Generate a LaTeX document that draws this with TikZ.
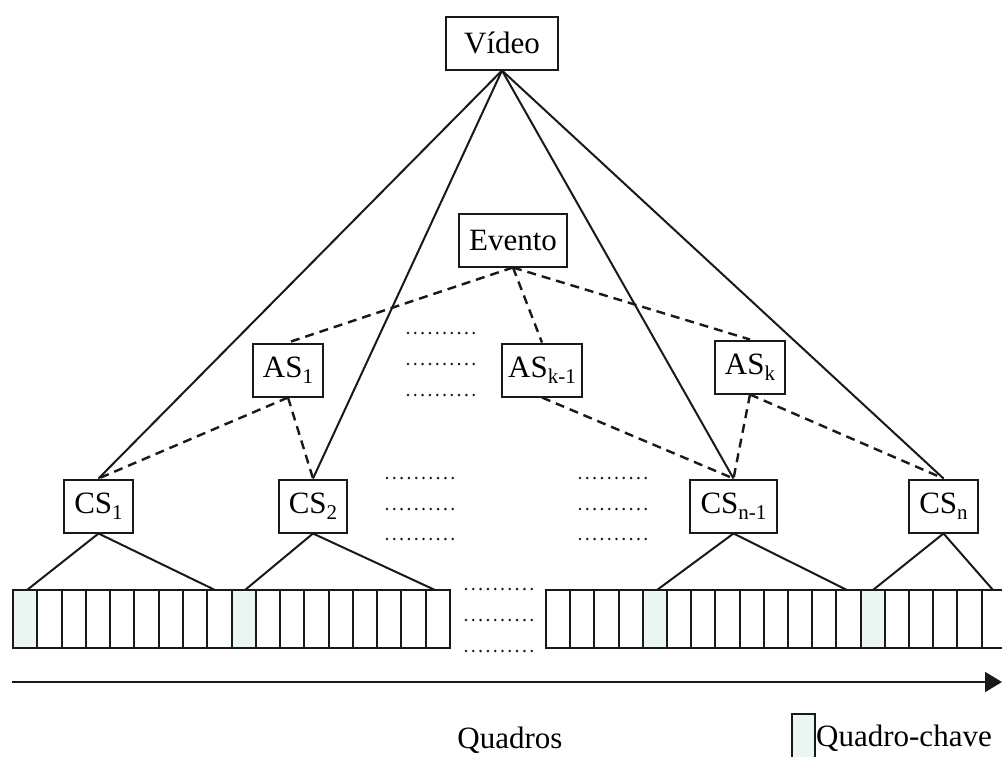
\documentclass[tikz,border=0pt]{standalone}
\usepackage{fontspec}
\setmainfont{Liberation Serif}
\usetikzlibrary{arrows.meta}
\definecolor{keycol}{RGB}{234,246,242}
\definecolor{inkcol}{RGB}{25,25,25}
\newcommand{\lowidx}[1]{\raisebox{-0.2em}{\fontsize{21}{21}\selectfont #1}}
\begin{document}
\begin{tikzpicture}[x=1pt,y=-1pt,
  box/.style={draw=inkcol,line width=2pt,inner sep=0pt,minimum height=53pt,fill=white,font=\fontsize{31}{36}\selectfont},
  solidln/.style={draw=inkcol,line width=2pt},
  dashln/.style={draw=inkcol,line width=2.4pt,dash pattern=on 9pt off 6pt},
  dotrow/.style={draw=inkcol,line width=2.8pt,line cap=round,dash pattern=on 0pt off 7.3pt},
  framebox/.style={draw=inkcol,line width=2pt},
  lbl/.style={font=\fontsize{31}{36}\selectfont,inner sep=2pt}]
\useasboundingbox (0,0) rectangle (1002,756);
\clip (0,0) rectangle (1002,756);

% frames, group 1
\fill[keycol] (13,590) rectangle ({13+24.28},648);
\fill[keycol] ({13+9*24.28},590) rectangle ({13+10*24.28},648);
\foreach \i in {0,...,17}
  \draw[framebox] ({13+\i*24.28},590) rectangle ({13+(\i+1)*24.28},648);
% frames, group 2
\fill[keycol] ({546+4*24.2},590) rectangle ({546+5*24.2},648);
\fill[keycol] ({546+13*24.2},590) rectangle ({546+14*24.2},648);
\foreach \i in {0,...,18}
  \draw[framebox] ({546+\i*24.2},590) rectangle ({546+(\i+1)*24.2},648);

% nodes
\node[box,minimum width=112pt] (video) at (502,43) {Vídeo};
\node[box,minimum width=108pt] (evento) at (513,240) {Evento};
\node[box,minimum width=70pt] (as1) at (288,370) {AS\lowidx{1}};
\node[box,minimum width=80pt] (ask1) at (542,370) {AS\lowidx{k-1}};
\node[box,minimum width=70pt] (ask) at (750,367) {AS\lowidx{k}};
\node[box,minimum width=69pt] (cs1) at (98.5,506) {CS\lowidx{1}};
\node[box,minimum width=68pt] (cs2) at (313,506) {CS\lowidx{2}};
\node[box,minimum width=87pt] (csn1) at (733.5,506) {CS\lowidx{n-1}};
\node[box,minimum width=69pt] (csn) at (943.5,506) {CS\lowidx{n}};

% solid links from video
\draw[solidln] (video.south) -- (cs1.north);
\draw[solidln] (video.south) -- (cs2.north);
\draw[solidln] (video.south) -- (csn1.north);
\draw[solidln] (video.south) -- (csn.north);

% dashed links
\draw[dashln] (evento.south) -- (as1.north);
\draw[dashln] (evento.south) -- (ask1.north);
\draw[dashln] (evento.south) -- (ask.north);
\draw[dashln] (as1.south) -- (cs1.north);
\draw[dashln] (as1.south) -- (cs2.north);
\draw[dashln] (ask1.south) -- (csn1.north);
\draw[dashln] (ask.south) -- (csn1.north);
\draw[dashln] (ask.south) -- (csn.north);

% shot-to-frame triangles
\coordinate (f1a) at (27,590);  \coordinate (f1b) at (215,590);
\coordinate (f2a) at (245,590); \coordinate (f2b) at (435,590);
\coordinate (f3a) at (657,590); \coordinate (f3b) at (847,590);
\coordinate (f4a) at (873,590); \coordinate (f4b) at (993,590);
\draw[solidln] (f1a) -- (cs1.south) -- (f1b);
\draw[solidln] (f2a) -- (cs2.south) -- (f2b);
\draw[solidln] (f3a) -- (csn1.south) -- (f3b);
\draw[solidln] (f4a) -- (csn.south) -- (f4b);

% dot rows
\foreach \y in {333,364,395} \draw[dotrow] (408,\y) -- (474,\y);
\foreach \y in {478,509,539} {
  \draw[dotrow] (387,\y) -- (453,\y);
  \draw[dotrow] (580,\y) -- (646,\y);
}
\foreach \y in {589,620,651} \draw[dotrow] (466,\y) -- (532,\y);

% time axis
\coordinate (tstart) at (12,682);
\coordinate (tend) at (1002,682);
\draw[draw=inkcol,line width=2pt,-{Triangle[length=17pt,width=20pt]}] (tstart) -- (tend);

% labels and legend
\node[lbl] (quadros) at (510,740) {Quadros};
\node[draw=inkcol,line width=1.8pt,fill=keycol,minimum width=23pt,minimum height=52pt,inner sep=0pt] (keybox) at (803.5,740) {};
\node[lbl,anchor=west] (keylbl) at (814,738) {Quadro-chave};
\end{tikzpicture}
\end{document}
